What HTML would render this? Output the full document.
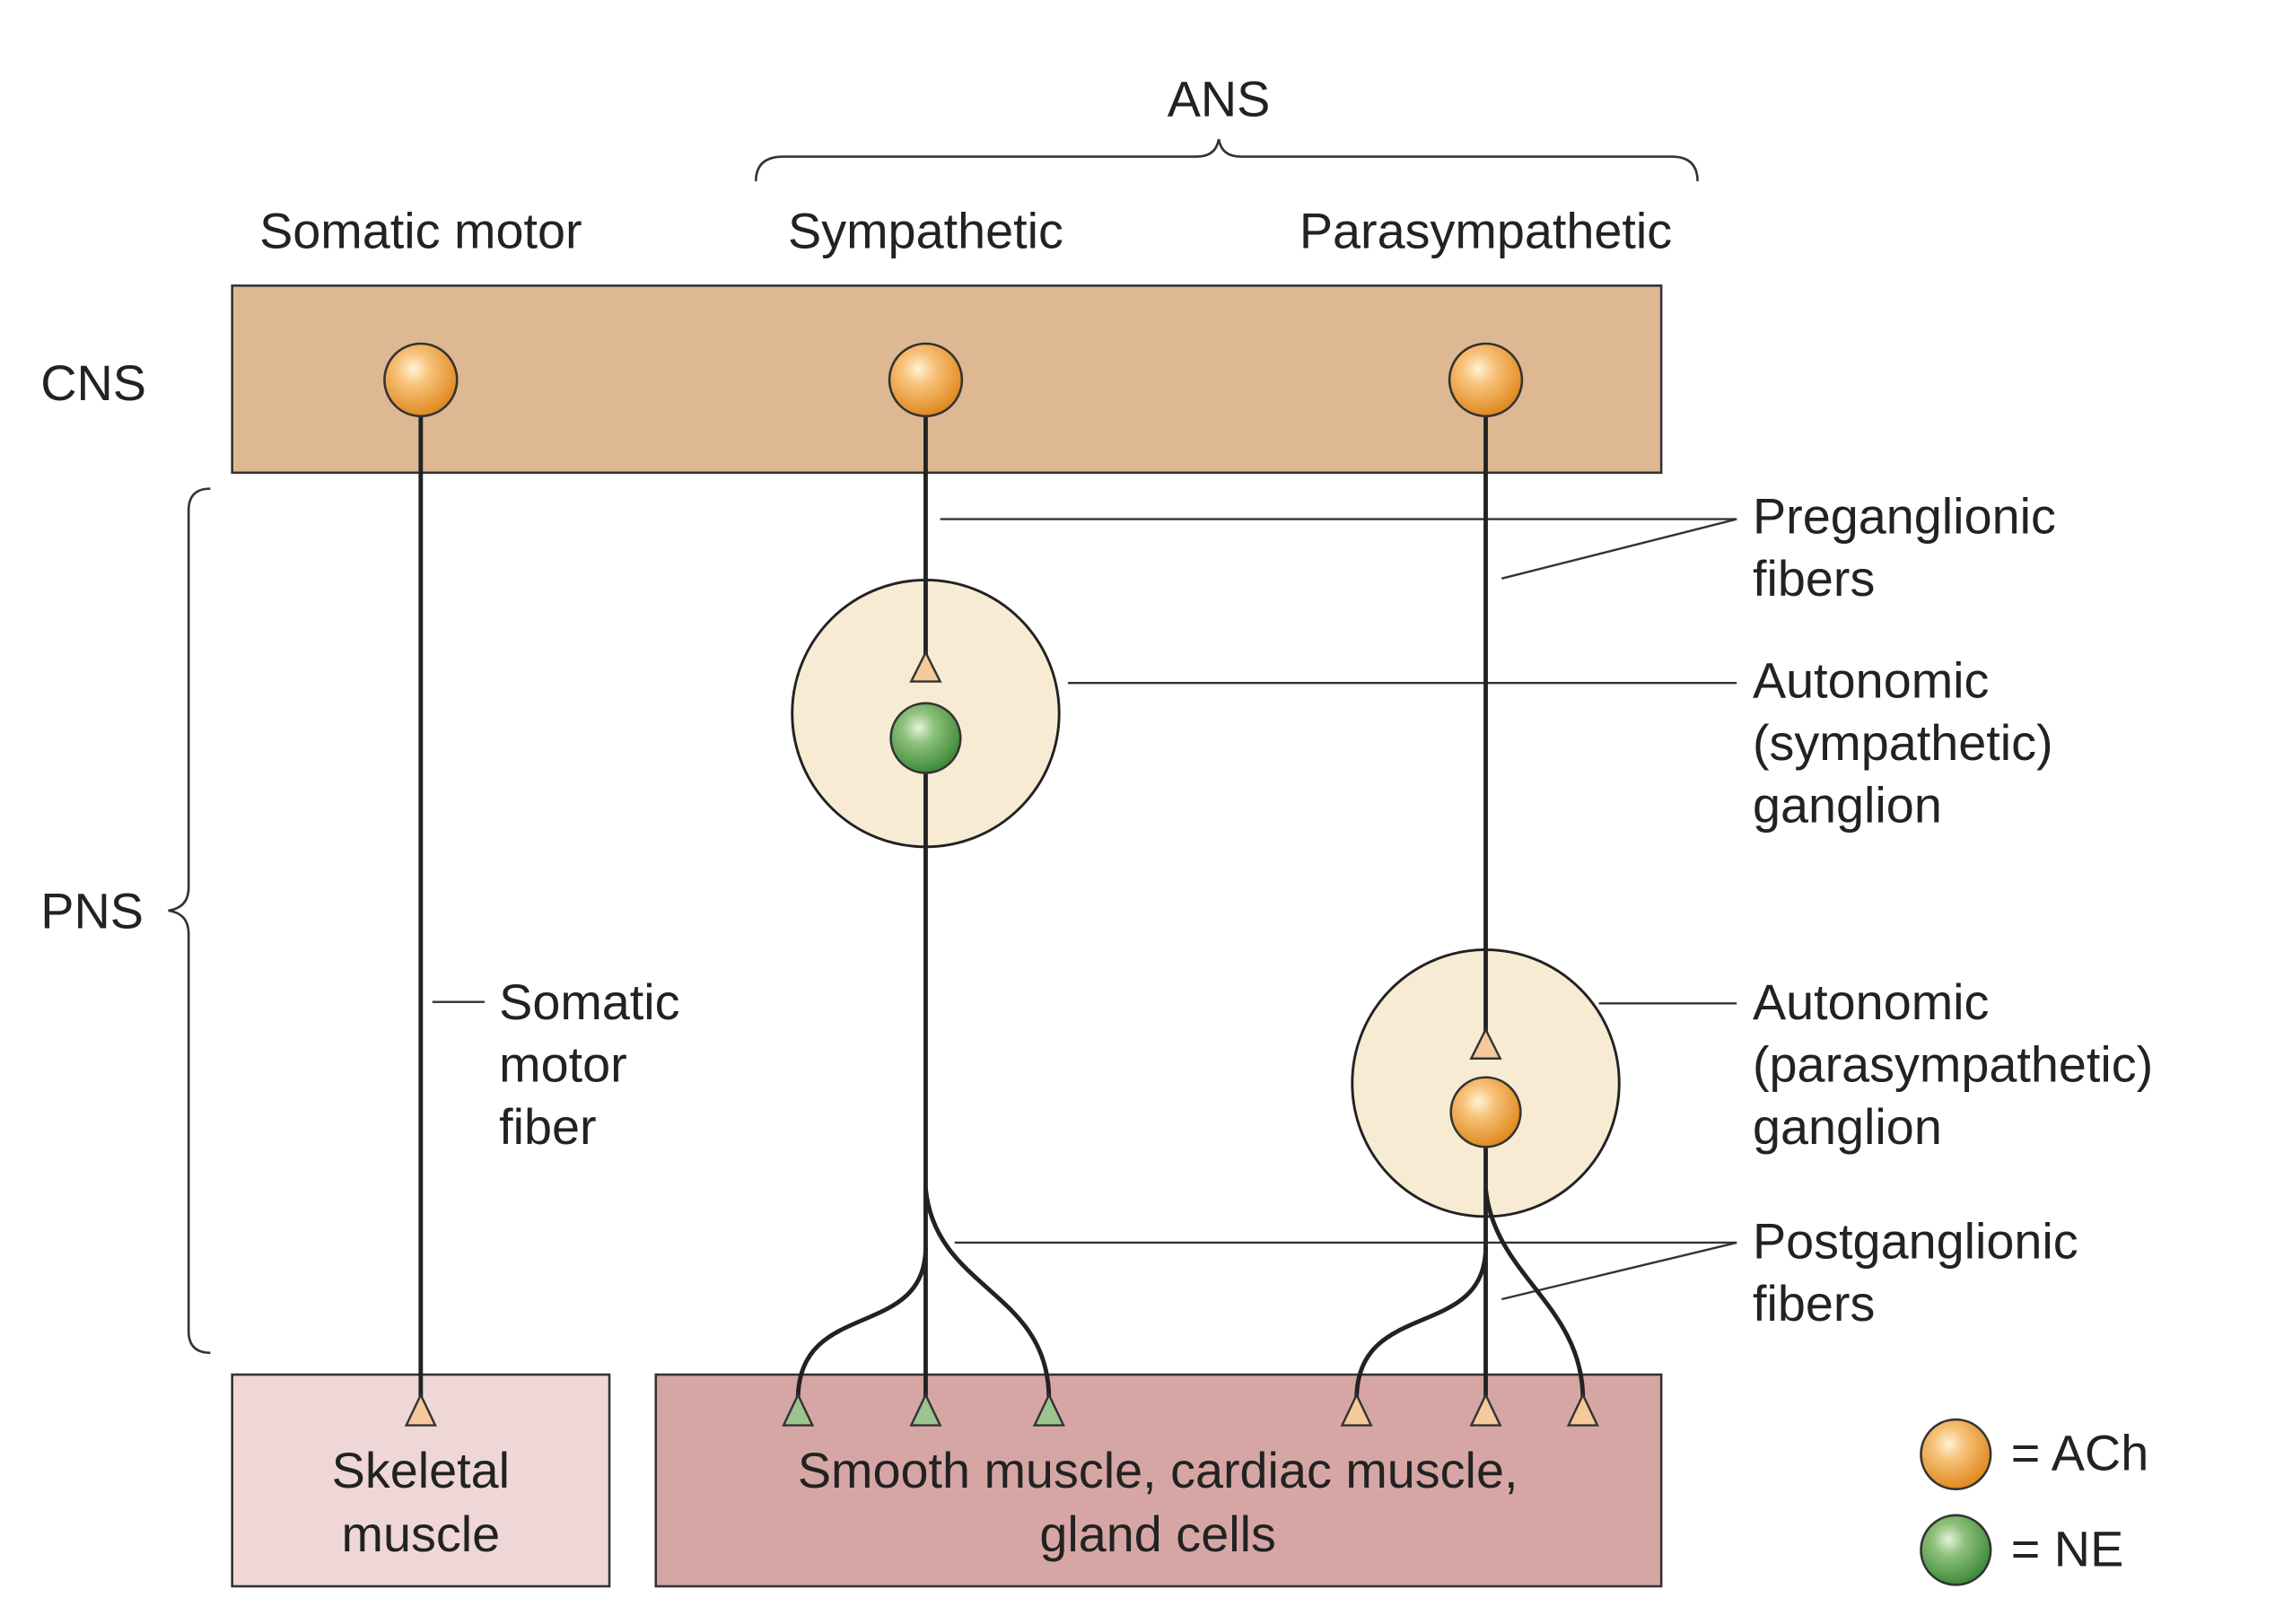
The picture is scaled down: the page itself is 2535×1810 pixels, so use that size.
<!DOCTYPE html>
<html><head><meta charset="utf-8"><style>
html,body{margin:0;padding:0;background:#fff}
svg{display:block}
text{font-family:"Liberation Sans",Arial,sans-serif;fill:#222;font-size:34.5px}
</style></head><body>
<svg width="2535" height="1810" viewBox="0 0 1568 1120" preserveAspectRatio="none" xmlns="http://www.w3.org/2000/svg">
<defs>
<radialGradient id="og" cx="40%" cy="35%" r="65%">
<stop offset="0" stop-color="#fff3d6"/><stop offset="0.35" stop-color="#f7c27a"/><stop offset="1" stop-color="#e08a1e"/></radialGradient>
<radialGradient id="gg" cx="40%" cy="35%" r="65%">
<stop offset="0" stop-color="#e3f3da"/><stop offset="0.35" stop-color="#8fc27c"/><stop offset="1" stop-color="#3f8a3a"/></radialGradient>
</defs>
<g fill="none" stroke="#333" stroke-width="1.6">
<path d="M521,125 Q521,108 540,108 L825,108 Q838,108 840,96 Q842,108 855,108 L1152,108 Q1170,108 1170,125"/>
<path d="M145,337 Q130,337 130,352 L130,612 Q130,626 116,628 Q130,630 130,644 L130,918 Q130,933 145,933"/>
</g>
<text x="840" y="80" text-anchor="middle">ANS</text>
<text x="290" y="171" text-anchor="middle">Somatic motor</text>
<text x="638" y="171" text-anchor="middle">Sympathetic</text>
<text x="1024" y="171" text-anchor="middle">Parasympathetic</text>
<text x="28" y="276">CNS</text>
<text x="28" y="640">PNS</text>
<rect x="160" y="197" width="985" height="129" fill="#deb893" stroke="#333" stroke-width="1.6"/>
<rect x="160" y="948" width="260" height="146" fill="#efd7d7" stroke="#333" stroke-width="1.6"/>
<rect x="452" y="948" width="693" height="146" fill="#d6a6a5" stroke="#333" stroke-width="1.6"/>
<circle cx="638" cy="492" r="92" fill="#f7ebd3" stroke="#222" stroke-width="1.8"/>
<circle cx="1024" cy="747" r="92" fill="#f7ebd3" stroke="#222" stroke-width="1.8"/>
<g stroke="#333" stroke-width="1.5" fill="none">
<line x1="648" y1="358" x2="1197" y2="358"/><line x1="1035" y1="399" x2="1197" y2="358"/>
<line x1="736" y1="471" x2="1197" y2="471"/>
<line x1="1102" y1="692" x2="1197" y2="692"/>
<line x1="658" y1="857" x2="1197" y2="857"/><line x1="1035" y1="896" x2="1197" y2="857"/>
<line x1="298" y1="691" x2="334" y2="691"/>
</g>
<g stroke="#222" stroke-width="3" fill="none">
<line x1="290" y1="262" x2="290" y2="965"/>
<line x1="638" y1="262" x2="638" y2="452"/>
<line x1="638" y1="509" x2="638" y2="965"/>
<line x1="1024" y1="262" x2="1024" y2="712"/>
<line x1="1024" y1="767" x2="1024" y2="965"/>
<path d="M638,860 C638,925 550,895 550,965"/>
<path d="M638,820 C645,890 723,890 723,965"/>
<path d="M1024,860 C1024,925 935,895 935,965"/>
<path d="M1024,820 C1030,880 1091,900 1091,965"/>
</g>
<g stroke="#333" stroke-width="1.5">
<polygon points="628,470 638,450 648,470" fill="#f6c99a"/>
<polygon points="1014,730 1024,710 1034,730" fill="#f6c99a"/>
<polygon points="280,983 290,962 300,983" fill="#f6c99a"/>
<polygon points="925,983 935,962 945,983" fill="#f6c99a"/>
<polygon points="1014,983 1024,962 1034,983" fill="#f6c99a"/>
<polygon points="1081,983 1091,962 1101,983" fill="#f6c99a"/>
<polygon points="540,983 550,962 560,983" fill="#9cc490"/>
<polygon points="628,983 638,962 648,983" fill="#9cc490"/>
<polygon points="713,983 723,962 733,983" fill="#9cc490"/>
</g>
<g stroke="#333" stroke-width="1.6">
<circle cx="290" cy="262" r="25" fill="url(#og)"/>
<circle cx="638" cy="262" r="25" fill="url(#og)"/>
<circle cx="1024" cy="262" r="25" fill="url(#og)"/>
<circle cx="638" cy="509" r="24" fill="url(#gg)"/>
<circle cx="1024" cy="767" r="24" fill="url(#og)"/>
<circle cx="1348" cy="1003" r="24" fill="url(#og)"/>
<circle cx="1348" cy="1069" r="24" fill="url(#gg)"/>
</g>
<text x="1208" y="368">Preganglionic</text><text x="1208" y="411">fibers</text>
<text x="1208" y="481">Autonomic</text><text x="1208" y="524">(sympathetic)</text><text x="1208" y="567">ganglion</text>
<text x="1208" y="703">Autonomic</text><text x="1208" y="746">(parasympathetic)</text><text x="1208" y="789">ganglion</text>
<text x="1208" y="868">Postganglionic</text><text x="1208" y="911">fibers</text>
<text x="344" y="703">Somatic</text><text x="344" y="746">motor</text><text x="344" y="789">fiber</text>
<text x="290" y="1026" text-anchor="middle">Skeletal</text><text x="290" y="1070" text-anchor="middle">muscle</text>
<text x="798" y="1026" text-anchor="middle">Smooth muscle, cardiac muscle,</text><text x="798" y="1070" text-anchor="middle">gland cells</text>
<text x="1386" y="1014">= ACh</text><text x="1386" y="1080">= NE</text>
</svg>
</body></html>
